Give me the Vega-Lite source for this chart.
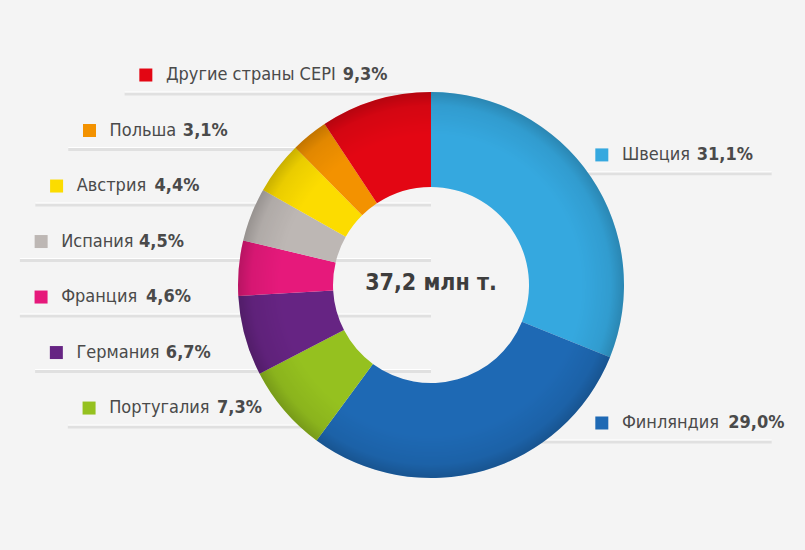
{
  "$schema": "https://vega.github.io/schema/vega-lite/v6.json",
  "width": 805,
  "height": 550,
  "autosize": "none",
  "padding": 0,
  "background": "#f4f4f4",
  "data": {
    "values": [
      {"country": "Швеция", "share": 31.1},
      {"country": "Финляндия", "share": 29.0},
      {"country": "Португалия", "share": 7.3},
      {"country": "Германия", "share": 6.7},
      {"country": "Франция", "share": 4.6},
      {"country": "Испания", "share": 4.5},
      {"country": "Австрия", "share": 4.4},
      {"country": "Польша", "share": 3.1},
      {"country": "Другие страны CEPI", "share": 9.3}
    ]
  },
  "transform": [
    {"window": [{"op": "row_number", "as": "idx"}]},
    {"calculate": "datum.idx <= 2 ? datum.idx - 1 : 9 - datum.idx", "as": "row"},
    {"calculate": "datum.idx <= 2 ? 0.674 - 1.389 * datum.row : 1.088 - 0.2876 * datum.row", "as": "ly"},
    {"calculate": "datum.idx <= 2 ? 0.885 : -2.03 * sqrt(max(0, 1 - pow((datum.ly - 0.08) / 1.47, 2)))", "as": "sx"},
    {"calculate": "datum.sx + 0.104", "as": "tx"},
    {"calculate": "length(split(datum.country, ' ')) - 1", "as": "nsp"},
    {"calculate": "length(datum.country) - length(replace(datum.country, regexp('[шщжю]', 'g'), ''))", "as": "wl"},
    {"calculate": "length(datum.country) - length(replace(datum.country, regexp('[ШЩЖФЮМ]', 'g'), ''))", "as": "wu"},
    {"calculate": "length(datum.country) - length(replace(datum.country, regexp('[мя]', 'g'), ''))", "as": "wm"},
    {"calculate": "datum.tx + (length(datum.country) - datum.nsp) * 0.0518 + datum.nsp * 0.027 + datum.wl * 0.036 + datum.wu * 0.036 + datum.wm * 0.008 + 0.033", "as": "px"},
    {"calculate": "replace(format(datum.share, '.1f'), '.', ',') + '%'", "as": "pct"},
    {"calculate": "datum.idx <= 2 ? 0 : datum.sx - 0.11", "as": "lx1"},
    {"calculate": "datum.idx <= 2 ? datum.sx + 0.88 : 0", "as": "lx2"},
    {"calculate": "datum.ly - 0.093", "as": "lyl"}
  ],
  "layer": [
    {
      "mark": {"type": "rule", "color": "#e0e0e0", "strokeWidth": 3, "yOffset": 1},
      "encoding": {
        "x": {"field": "lx1", "type": "quantitative", "scale": {"domain": [-2.2332, 1.9378], "nice": false, "zero": false}, "axis": null},
        "x2": {"field": "lx2"},
        "y": {"field": "lyl", "type": "quantitative", "scale": {"domain": [-1.3731, 1.4767], "nice": false, "zero": false}, "axis": null}
      }
    },
    {
      "mark": {"type": "rule", "color": "#ffffff", "strokeWidth": 1, "yOffset": -1},
      "encoding": {
        "x": {"field": "lx1", "type": "quantitative"},
        "x2": {"field": "lx2"},
        "y": {"field": "lyl", "type": "quantitative"}
      }
    },
    {
      "mark": {"type": "arc", "outerRadius": 193, "innerRadius": 98},
      "encoding": {
        "theta": {"field": "share", "type": "quantitative", "stack": true},
        "order": {"field": "idx", "type": "quantitative"},
        "color": {
          "field": "country",
          "type": "nominal",
          "scale": {
            "domain": ["Швеция", "Финляндия", "Португалия", "Германия", "Франция", "Испания", "Австрия", "Польша", "Другие страны CEPI"],
            "range": ["#35a8df", "#1e69b4", "#95c11f", "#662483", "#e6197b", "#bdb7b4", "#fcdc00", "#f39200", "#e30613"]
          },
          "legend": null
        },
        "x": {"datum": 0, "type": "quantitative"},
        "y": {"datum": 0, "type": "quantitative"}
      }
    },
    {
      "transform": [{"aggregate": [{"op": "sum", "field": "share", "as": "total"}]}],
      "layer": [
        {
          "mark": {
            "type": "arc",
            "outerRadius": 193,
            "innerRadius": 98,
            "fill": {
              "gradient": "radial",
              "x1": 0.5, "y1": 0.5, "r1": 0,
              "x2": 0.5, "y2": 0.5, "r2": 0.5,
              "stops": [
                {"offset": 0, "color": "rgba(0,0,0,0)"},
                {"offset": 0.78, "color": "rgba(0,0,0,0)"},
                {"offset": 0.93, "color": "rgba(0,0,0,0.07)"},
                {"offset": 1, "color": "rgba(0,0,0,0.2)"}
              ]
            }
          },
          "encoding": {
            "theta": {"field": "total", "type": "quantitative"},
            "x": {"datum": 0, "type": "quantitative"},
            "y": {"datum": 0, "type": "quantitative"}
          }
        },
        {
          "mark": {"type": "text", "text": "37,2 млн т.", "font": "DejaVu Sans Condensed, sans-serif", "fontSize": 23, "fontWeight": "bold", "color": "#3d3d3d", "align": "center", "baseline": "middle"},
          "encoding": {
            "x": {"datum": 0, "type": "quantitative"},
            "y": {"datum": 0.01, "type": "quantitative"}
          }
        }
      ]
    },
    {
      "mark": {"type": "square", "size": 169, "filled": true, "opacity": 1},
      "encoding": {
        "x": {"field": "sx", "type": "quantitative"},
        "y": {"field": "ly", "type": "quantitative"},
        "color": {"field": "country", "type": "nominal"}
      }
    },
    {
      "mark": {"type": "text", "font": "DejaVu Sans Condensed, sans-serif", "fontSize": 18, "color": "#4a4a4a", "align": "left", "baseline": "middle"},
      "encoding": {
        "x": {"field": "tx", "type": "quantitative"},
        "y": {"field": "ly", "type": "quantitative"},
        "text": {"field": "country"}
      }
    },
    {
      "mark": {"type": "text", "font": "DejaVu Sans Condensed, sans-serif", "fontSize": 18, "fontWeight": "bold", "color": "#4a4a4a", "align": "left", "baseline": "middle"},
      "encoding": {
        "x": {"field": "px", "type": "quantitative"},
        "y": {"field": "ly", "type": "quantitative"},
        "text": {"field": "pct"}
      }
    }
  ],
  "config": {"view": {"stroke": null}}
}
